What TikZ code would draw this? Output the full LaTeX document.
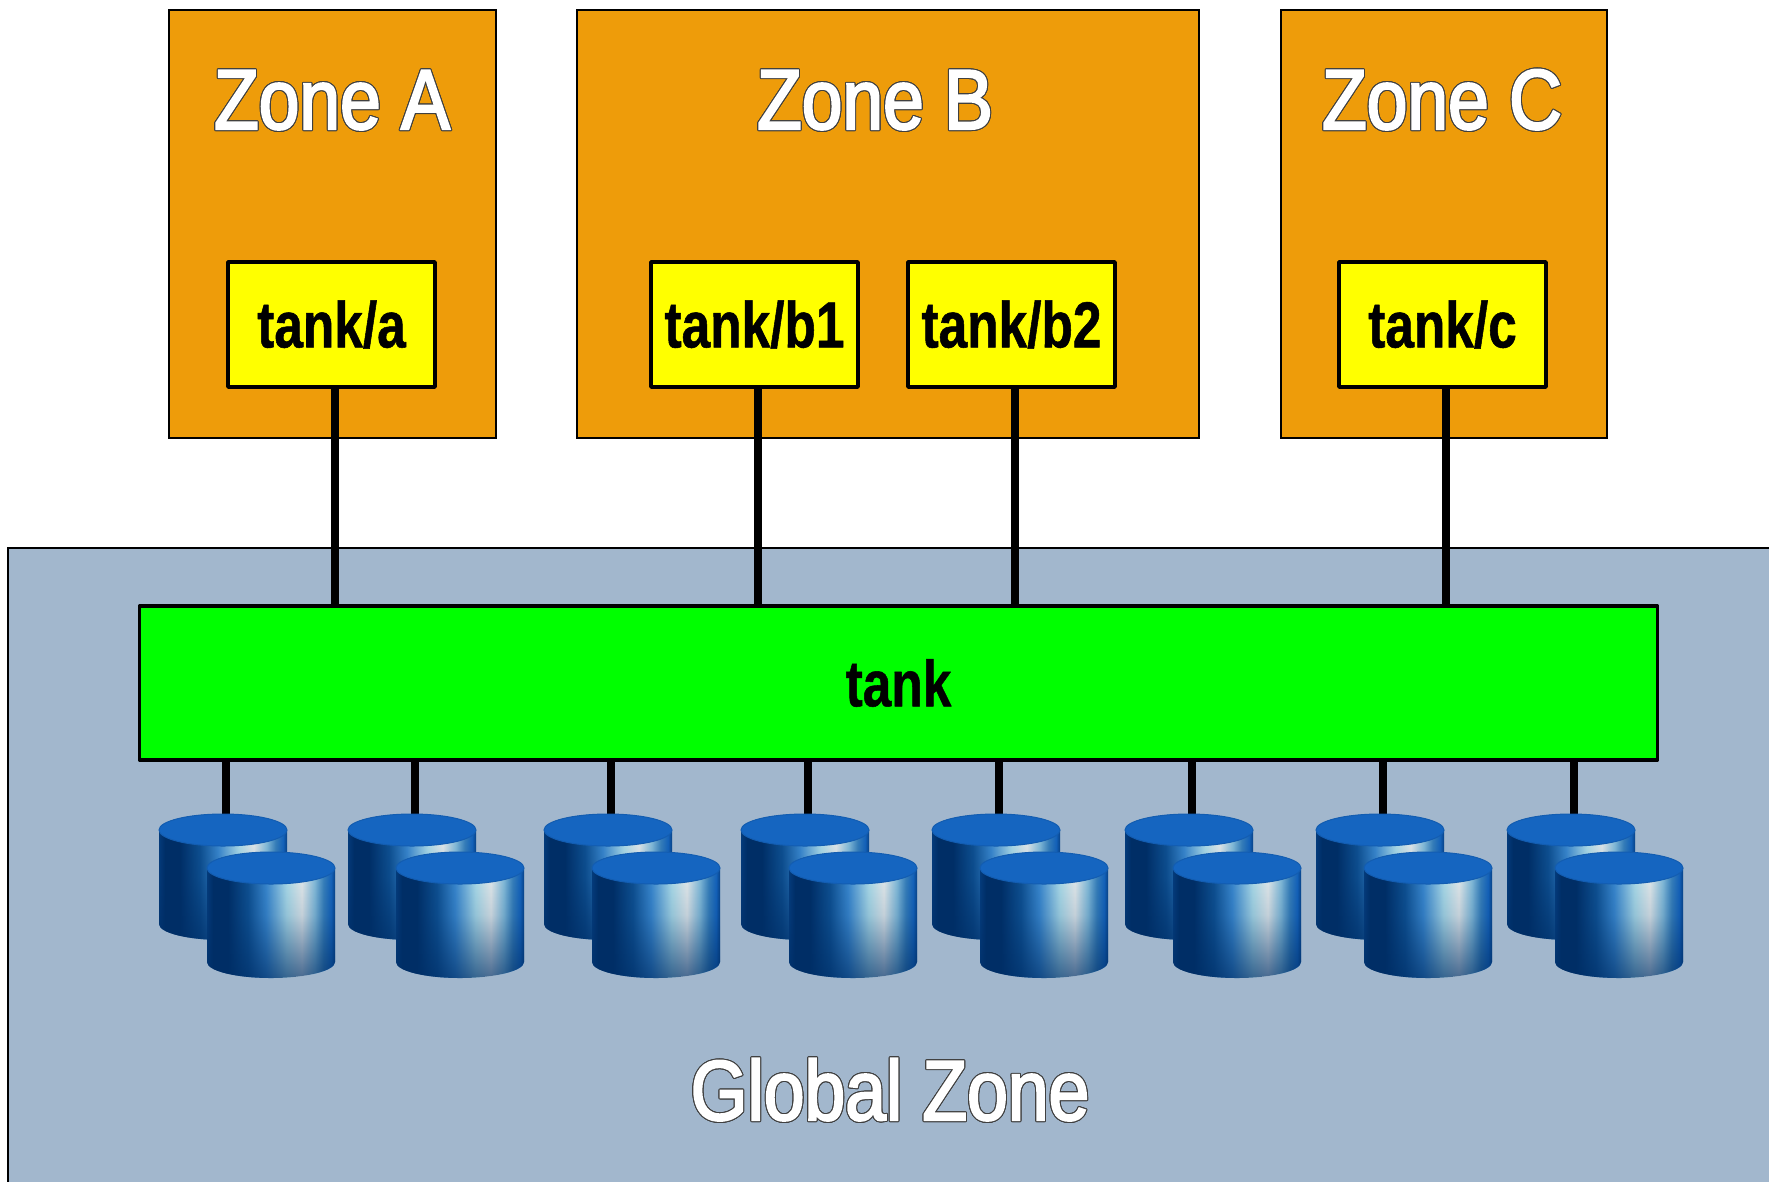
\documentclass[tikz,border=0pt]{standalone}
\usepackage{fontspec}
\usepackage{contour}
\setmainfont{Liberation Sans}
\newfontfamily\zonefont[FakeStretch=0.86, FakeBold=2.5]{Liberation Sans}
\newfontfamily\poolfont[FakeStretch=0.79, FakeBold=0.8]{Liberation Sans Bold}
\usepackage{tikz}
\usetikzlibrary{calc, fadings}

\definecolor{ZoneOrange}{HTML}{EE9C0A}
\definecolor{GlobalBlue}{HTML}{A2B7CD}
\definecolor{PoolYellow}{HTML}{FFFF00}
\definecolor{PoolGreen}{HTML}{00FF00}
\definecolor{DiskTop}{HTML}{1565C0}
\definecolor{DiskNavy}{HTML}{002E66}
\definecolor{DiskDeep}{HTML}{0F5294}
\definecolor{DiskSky}{HTML}{3C8CD4}
\definecolor{DiskPale}{HTML}{B4E4F0}
\definecolor{DiskGlow}{HTML}{F0F4F2}
\definecolor{DiskSoft}{HTML}{8CC4E0}
\definecolor{DiskEdge}{HTML}{3A84C0}

\contourlength{0.3pt}

% only the middle band, 25bp to 75bp, is seen on the path
\pgfdeclarehorizontalshading{diskbody}{100bp}{
  color(0bp)=(DiskNavy!75!DiskTop);
  color(25bp)=(DiskNavy!75!DiskTop);
  color(27.5bp)=(DiskNavy);
  color(33bp)=(DiskNavy);
  color(41bp)=(DiskDeep);
  color(48bp)=(DiskSky);
  color(56bp)=(DiskPale);
  color(62bp)=(DiskGlow);
  color(67bp)=(DiskSoft);
  color(70.5bp)=(DiskEdge);
  color(73.5bp)=(DiskTop);
  color(75bp)=(DiskNavy!60!DiskTop);
  color(100bp)=(DiskNavy!60!DiskTop)}

\tikzfading[name=diskfade, top color=transparent!100, bottom color=transparent!30, middle color=transparent!82]

\tikzset{
  zonebox/.style={draw=black, fill=ZoneOrange, line width=0.012cm},
  poolbox/.style={draw=black, line width=0.035cm, line join=round, font=\poolfont\bfseries\fontsize{18.5}{20}\selectfont},
  zonetitle/.style={anchor=base, inner sep=0, font=\zonefont\fontsize{24.2}{26}\selectfont},
  linkline/.style={draw=black, line width=0.08cm},
  disk/.pic={
    \shade[shading=diskbody] (0,0) -- (0,-94) arc[start angle=180, end angle=360, x radius=64, y radius=16] -- (128,0) arc[start angle=0, end angle=180, x radius=64, y radius=16] -- cycle;
    \fill[DiskNavy, path fading=diskfade] (0,0) -- (0,-94) arc[start angle=180, end angle=360, x radius=64, y radius=16] -- (128,0) arc[start angle=0, end angle=180, x radius=64, y radius=16] -- cycle;
    \filldraw[draw=DiskTop!92!black, fill=DiskTop, line width=0.01cm] (64,0) ellipse (64 and 16);
  }
}

\begin{document}
\begin{tikzpicture}[x=0.01cm, y=0.01cm]

  \clip (0,0) rectangle (1769,-1181);

  % global zone runs off the page
  \filldraw[draw=black, fill=GlobalBlue, line width=0.012cm] (8,-548) rectangle (1800,-1200);
  \node[zonetitle] (globaltitle) at (890,-1120) {\contour{black!75}{\textcolor{white}{Global Zone}}};

  \filldraw[zonebox] (169,-10) rectangle (496,-438);
  \filldraw[zonebox] (577,-10) rectangle (1199,-438);
  \filldraw[zonebox] (1281,-10) rectangle (1607,-438);

  \node[zonetitle] (titlea) at (332,-129) {\contour{black!75}{\textcolor{white}{Zone A}}};
  \node[zonetitle] (titleb) at (875,-129) {\contour{black!75}{\textcolor{white}{Zone B}}};
  \node[zonetitle] (titlec) at (1442,-129) {\contour{black!75}{\textcolor{white}{Zone C}}};

  \node[poolbox, fill=PoolYellow, minimum width=2.07cm, minimum height=1.25cm] (tanka) at (331.5,-324.5) {tank/a};
  \node[poolbox, fill=PoolYellow, minimum width=2.07cm, minimum height=1.25cm] (tankbone) at (754.5,-324.5) {tank/b1};
  \node[poolbox, fill=PoolYellow, minimum width=2.07cm, minimum height=1.25cm] (tankbtwo) at (1011.5,-324.5) {tank/b2};
  \node[poolbox, fill=PoolYellow, minimum width=2.07cm, minimum height=1.25cm] (tankc) at (1442.5,-324.5) {tank/c};

  \node[poolbox, fill=PoolGreen, minimum width=15.17cm, minimum height=1.54cm] (tank) at (898.5,-683) {tank};

  \foreach \from in {tanka, tankbone, tankbtwo, tankc} {
    \coordinate (\from drop) at ($ (\from.south)+(3,0) $);
    \draw[linkline] (\from drop) -- (\from drop |- tank.north);
  }

  % back and front disk of every pair
  \foreach \x [count=\i] in {159, 348, 544, 741, 932, 1125, 1316, 1507} {
    \coordinate (disk\i) at (\x+67,-820);
    \draw[linkline] (tank.south -| disk\i) -- (disk\i);
    \pic at (\x,-830) {disk};
    \pic at (\x+48,-868) {disk};
  }

\end{tikzpicture}
\end{document}
